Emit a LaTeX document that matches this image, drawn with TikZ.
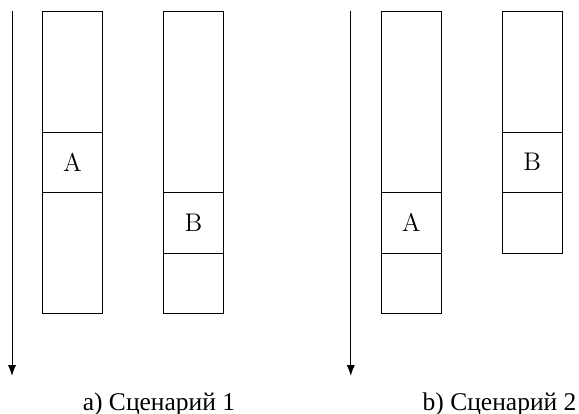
\documentclass[tikz,border=0pt]{standalone}
\usepackage{fontspec}
\usetikzlibrary{arrows.meta}
\newfontfamily\cyrfont{Liberation Serif}

\begin{document}
\begin{tikzpicture}[>={Latex[length=5pt,width=3.8pt]}, font=\fontsize{12}{14}\selectfont]
      \useasboundingbox (-0.198,0.182) rectangle (9.372,-6.661);

      % Scenario 1: time axis and the two columns
      \draw[->] (0,0) -- (0,-6.03);
      \draw (0.5,0) rectangle (1.5,-5);
      \draw (2.5,0) rectangle (3.5,-5);

      % Place the blocks
      \draw (0.5,-2) rectangle (1.5,-3);
      \node (blockA1) at (1,-2.5) {A};
      \draw (2.5,-3) rectangle (3.5,-4);
      \node (blockB1) at (3,-3.5) {B};

      % Scenario 2: time axis and the two columns
      \draw[->] (5.6,0) -- (5.6,-6.03);
      \draw (6.1,0) rectangle (7.1,-5);
      \draw (8.1,0) rectangle (9.1,-4);

      % Place the blocks
      \draw (6.1,-3) rectangle (7.1,-4);
      \node (blockA2) at (6.6,-3.5) {A};
      \draw (8.1,-2) rectangle (9.1,-3);
      \node (blockB2) at (8.6,-2.5) {B};

      % Captions
      \node[anchor=base] (capA) at (2.43,-6.595) {\cyrfont a) Сценарий 1};
      \node[anchor=base] (capB) at (8.06,-6.595) {\cyrfont b) Сценарий 2};
    \end{tikzpicture}
\end{document}
